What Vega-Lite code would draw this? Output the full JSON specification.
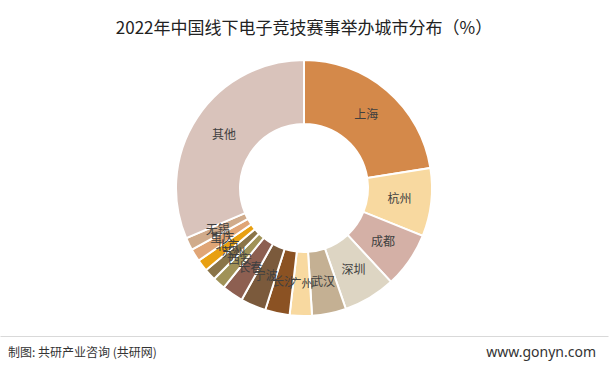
{
  "$schema": "https://vega.github.io/schema/vega-lite/v6.json",
  "padding": {"left": 0, "right": 5, "top": 20, "bottom": 0},
  "background": "white",
  "spacing": 0,
  "config": {"view": {"stroke": null}, "font": "Noto Sans CJK SC"},
  "vconcat": [
    {
      "title": {"text": "2022年中国线下电子竞技赛事举办城市分布（%）", "fontSize": 17, "fontWeight": "normal", "color": "#222222", "font": "Noto Sans CJK SC", "offset": 2},
      "width": 608,
      "height": 296,
      "data": {"values": [
        {"city": "上海", "value": 22.5, "order": 1},
        {"city": "杭州", "value": 8.6, "order": 2},
        {"city": "成都", "value": 7.0, "order": 3},
        {"city": "深圳", "value": 6.6, "order": 4},
        {"city": "武汉", "value": 4.3, "order": 5},
        {"city": "广州", "value": 2.8, "order": 6},
        {"city": "长沙", "value": 3.1, "order": 7},
        {"city": "宁波", "value": 3.2, "order": 8},
        {"city": "长春", "value": 2.7, "order": 9},
        {"city": "西安", "value": 1.6, "order": 10},
        {"city": "苏州", "value": 1.5, "order": 11},
        {"city": "北京", "value": 1.5, "order": 12},
        {"city": "重庆", "value": 1.6, "order": 13},
        {"city": "无锡", "value": 1.6, "order": 14},
        {"city": "其他", "value": 31.4, "order": 15}
      ]},
      "encoding": {
        "theta": {"field": "value", "type": "quantitative", "stack": true},
        "order": {"field": "order", "type": "quantitative"}
      },
      "layer": [
        {
          "mark": {"type": "arc", "innerRadius": 64, "outerRadius": 128, "stroke": "white", "strokeWidth": 2},
          "encoding": {
            "color": {
              "field": "city", "type": "nominal", "legend": null,
              "scale": {
                "domain": ["上海", "杭州", "成都", "深圳", "武汉", "广州", "长沙", "宁波", "长春", "西安", "苏州", "北京", "重庆", "无锡", "其他"],
                "range": ["#d4894a", "#f8d9a0", "#d4b0a6", "#ddd5c3", "#c4b093", "#f8d9a0", "#8b5223", "#7b5a3c", "#8d5f51", "#a09258", "#8a7448", "#e8a012", "#e0a576", "#d0ab8b", "#d9c3bb"]
              }
            }
          }
        },
        {
          "mark": {"type": "text", "radius": 96, "fontSize": 12, "color": "#404040", "font": "Noto Sans CJK SC"},
          "encoding": {"text": {"field": "city", "type": "nominal"}}
        }
      ]
    },
    {
      "width": 608,
      "height": 34,
      "data": {"values": [
        {"label": "制图: 共研产业咨询 (共研网)", "side": "左"},
        {"label": "www.gonyn.com", "side": "右"}
      ]},
      "encoding": {
        "x": {
          "field": "side", "type": "nominal",
          "scale": {"type": "point", "domain": ["左", "右"], "padding": 0.0135},
          "axis": {"orient": "top", "domain": true, "domainColor": "#d9d9d9", "domainWidth": 1, "ticks": false, "labels": false, "title": null, "grid": false}
        },
        "text": {"field": "label", "type": "nominal"}
      },
      "layer": [
        {
          "transform": [{"filter": "datum.side === '左'"}],
          "mark": {"type": "text", "align": "left", "fontSize": 12, "color": "#333333", "font": "Noto Sans CJK SC"}
        },
        {
          "transform": [{"filter": "datum.side === '右'"}],
          "mark": {"type": "text", "align": "right", "fontSize": 14, "color": "#333333", "font": "Noto Sans", "dx": -4}
        }
      ]
    }
  ]
}
